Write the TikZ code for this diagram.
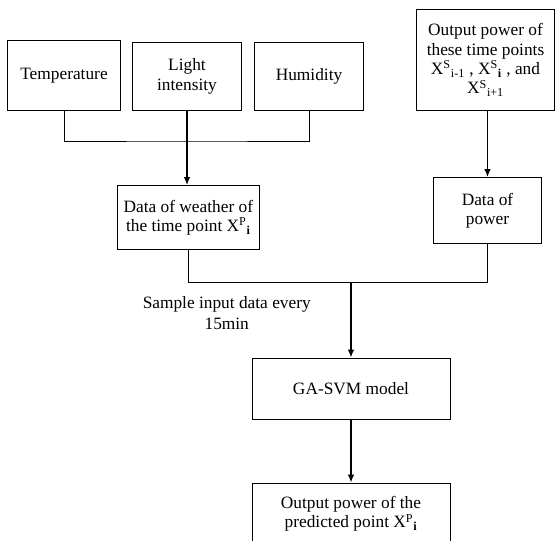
\documentclass[tikz,border=0pt]{standalone}
\usepackage{fontspec}
\setmainfont{Liberation Serif}
\usepackage{tikz}
\usetikzlibrary{positioning,arrows.meta,calc}
\tikzset{
  box/.style={draw, line width=0.75pt, align=center, inner sep=2pt, font=\fontsize{13}{14.5}\selectfont},
  link/.style={line width=0.75pt},
  arr/.style={-{Latex[length=6pt,width=5pt]}, line width=1pt},
  note/.style={align=center, inner sep=0pt, font=\fontsize{13}{15.5}\selectfont},
}

\begin{document}
\begin{tikzpicture}[x=0.75pt,y=-0.75pt]
\useasboundingbox (0,0) rectangle (555,540);
% top row: inputs
\node[box, minimum width=84.75pt, minimum height=52.5pt, anchor=south west] (temp) at (7,111) {Temperature};
\node[box, minimum width=81.75pt, minimum height=51pt, right=8.25pt of temp.south east, anchor=south west] (light) {Light\\intensity};
\node[box, minimum width=81.75pt, minimum height=51pt, right=9pt of light.south east, anchor=south west] (hum) {Humidity};
\node[box, minimum width=103.5pt, minimum height=75.75pt, anchor=south west] (outs) at (416,111)
  {Output power of\\these time points\\X\textsuperscript{S}\textsubscript{i-1} , X\textsuperscript{S}\textsubscript{\textbf{i}} , and\\X\textsuperscript{S}\textsubscript{i+1}};
% data boxes
\node[box, minimum width=106.5pt, minimum height=48pt, below=55.5pt of light, xshift=1pt] (weather)
  {Data of weather of\\the time point X\textsuperscript{P}\textsubscript{\textbf{i}}};
\node[box, minimum width=81pt, minimum height=49.5pt, below=49.5pt of outs, xshift=1.5pt] (power) {Data of\\power};
% model and output
\node[box, minimum width=148.5pt, minimum height=45.75pt] (gasvm) at (351,388.5) {GA-SVM model};
\node[box, minimum width=148.5pt, minimum height=46.5pt, below=47.25pt of gasvm] (outp)
  {Output power of the\\predicted point X\textsuperscript{P}\textsubscript{\textbf{i}}};
% connectors
\coordinate[below=22.5pt of light.south] (j1);
\coordinate[below=24pt of weather.south] (w2);
\coordinate (j2) at (gasvm.north |- w2);
\draw[link] (temp.south) |- (j1) -| (hum.south);
\draw[arr] (light.south) -- (light.south |- weather.north);
\draw[arr] (outs.south -| power.north) -- (power.north);
\draw[link] (weather.south) -- (w2) -| (power.south);
\draw[arr] (j2) -- (gasvm.north);
\draw[arr] (gasvm.south) -- (outp.north);
\node[note, below left=11pt and 30pt of j2] (samp) {Sample input data every\\15min};
\end{tikzpicture}
\end{document}
